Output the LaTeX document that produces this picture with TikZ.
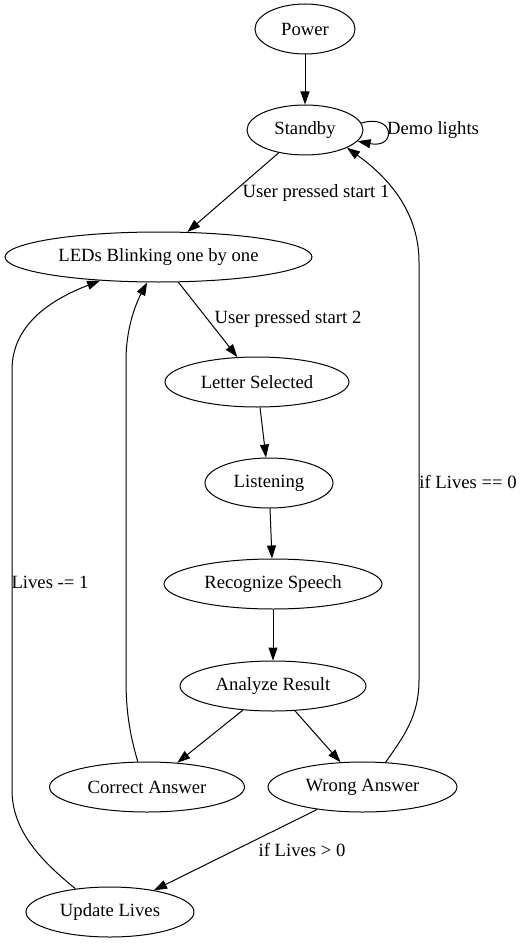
\documentclass[tikz,border=0pt]{standalone}
\usepackage{fontspec}
\setmainfont{Liberation Serif}
\usetikzlibrary{shapes.geometric,arrows.meta}
\begin{document}
\begin{tikzpicture}[x=1pt,y=-1pt,
  state/.style={draw,ellipse,line width=1pt,inner sep=0pt,minimum height=50pt,
    font=\fontsize{18.67}{22}\selectfont},
  edge/.style={line width=1pt,-{Triangle[length=13pt,width=9pt]}},
  lbl/.style={font=\fontsize{18.67}{22}\selectfont,inner sep=0pt}]
\useasboundingbox (0,0) rectangle (523,944);
\node[state,minimum width=100pt] (power) at (305,29) {Power};
\node[state,minimum width=116pt] (standby) at (305,130) {Standby};
\node[state,minimum width=307pt] (leds) at (158.5,257) {LEDs Blinking one by one};
\node[state,minimum width=184pt] (letter) at (257,382) {Letter Selected};
\node[state,minimum width=128pt] (listen) at (269,483) {Listening};
\node[state,minimum width=218pt] (recog) at (273,584) {Recognize Speech};
\node[state,minimum width=186pt] (analyze) at (273,686) {Analyze Result};
\node[state,minimum width=195pt] (correct) at (147,787) {Correct Answer};
\node[state,minimum width=189pt] (wrong) at (362.5,787) {Wrong Answer};
\node[state,minimum width=168pt] (update) at (110,912) {Update Lives};

\draw[edge] (power) -- (standby);
\draw[edge] (standby.7) .. controls (395,113) and (397,149) .. (standby.-12);
\node[lbl,anchor=west] (ldemo) at (387,130) {Demo lights};
\draw[edge] (standby) -- (leds);
\node[lbl] (ls1) at (316,193) {User pressed start 1};
\draw[edge] (leds) -- (letter);
\node[lbl] (ls2) at (288,319) {User pressed start 2};
\draw[edge] (letter) -- (listen);
\draw[edge] (listen) -- (recog);
\draw[edge] (recog) -- (analyze);
\draw[edge] (analyze) -- (correct);
\draw[edge] (analyze) -- (wrong);
\draw[edge] (wrong) -- (update);
\node[lbl] (lgt) at (302,850) {if Lives > 0};
\draw[edge] (correct.110) .. controls (130,735) and (126,712) .. (126,680)
  -- (126,360) .. controls (126,330) and (135,305) .. (leds.246);
\draw[edge] (wrong.47) .. controls (405,735) and (419,715) .. (419,680)
  -- (419,262) .. controls (419,215) and (392,180) .. (standby.337);
\node[lbl] (leq) at (468,482) {if Lives == 0};
\draw[edge] (update.146) .. controls (40,860) and (12,830) .. (12,790)
  -- (12,370) .. controls (12,325) and (50,300) .. (leds.202);
\node[lbl] (lmin) at (50,582) {Lives -= 1};
\end{tikzpicture}
\end{document}
